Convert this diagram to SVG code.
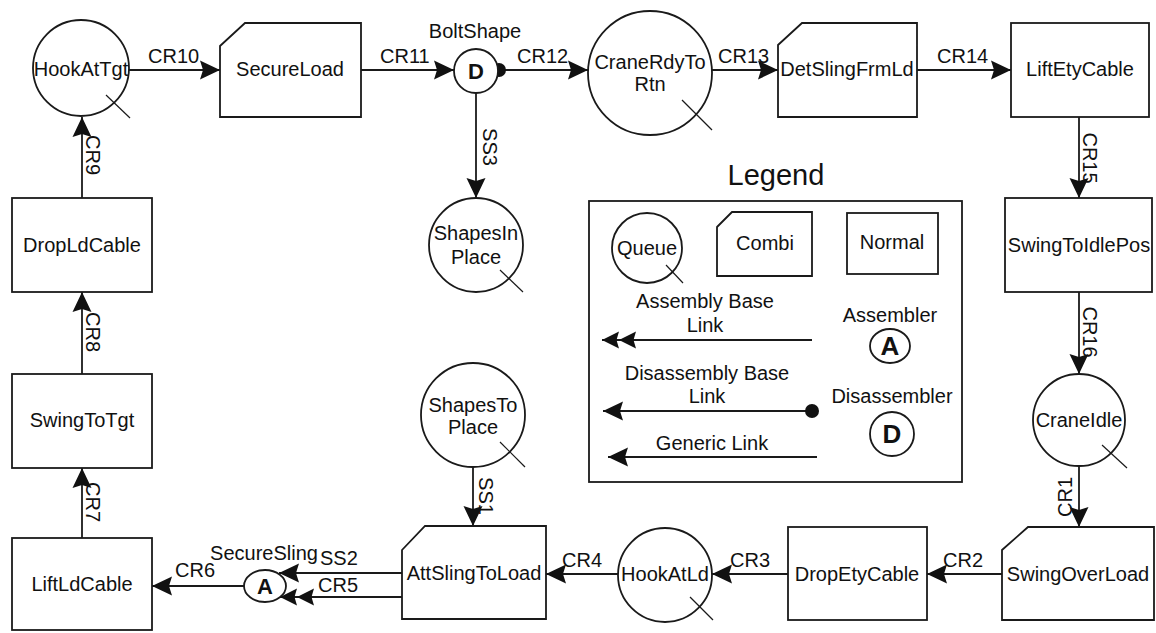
<svg xmlns="http://www.w3.org/2000/svg" width="1156" height="633" viewBox="0 0 1156 633">
<style>
  .bg{fill:#ffffff}
  .shape{fill:#ffffff;stroke:#1a1a1a;stroke-width:1.8}
  .tick{fill:none;stroke:#1a1a1a;stroke-width:1.2}
  .link{fill:none;stroke:#1a1a1a;stroke-width:1.8}
  text{font-family:"Liberation Sans",Arial,Helvetica,sans-serif;fill:#111111}
  .t{font-size:20px;text-anchor:middle}
  .lbl{font-size:20px}
  .vl{font-size:20px;text-anchor:middle}
  .big{font-size:22px;font-weight:bold;text-anchor:middle}
  .sym{font-size:26px;font-weight:bold;text-anchor:middle}
  .title{font-size:29px;text-anchor:middle}
</style>
<defs>
  <marker id="arr" markerUnits="userSpaceOnUse" markerWidth="20" markerHeight="20" viewBox="0 0 20 20" refX="20" refY="10" orient="auto">
    <path d="M0,0.5 L20,10 L0,19.5 L3,10 Z" fill="#111111"/>
  </marker>
  <marker id="arr2" markerUnits="userSpaceOnUse" markerWidth="36" markerHeight="18" viewBox="0 0 36 18" refX="36" refY="9" orient="auto">
    <path d="M2,0.5 L19,9 L2,17.5 L4.5,9 Z M19,0.5 L36,9 L19,17.5 L21.5,9 Z" fill="#111111"/>
  </marker>
  <marker id="dot" markerUnits="userSpaceOnUse" markerWidth="16" markerHeight="16" viewBox="0 0 16 16" refX="8" refY="8" orient="auto">
    <circle cx="8" cy="8" r="7" fill="#111111"/>
  </marker>
</defs>
<rect class="bg" x="0" y="0" width="1156" height="633"/>

<g id="connectors">
  <line class="link" x1="129" y1="70" x2="220" y2="70" marker-end="url(#arr)"/>
  <text class="lbl" x="148" y="63">CR10</text>
  <line class="link" x1="361" y1="70" x2="454" y2="70" marker-end="url(#arr)"/>
  <text class="lbl" x="380" y="63">CR11</text>
  <line class="link" x1="499" y1="70" x2="588" y2="70" marker-start="url(#dot)" marker-end="url(#arr)"/>
  <text class="lbl" x="517" y="63">CR12</text>
  <line class="link" x1="712" y1="70" x2="778" y2="70" marker-end="url(#arr)"/>
  <text class="lbl" x="718" y="63">CR13</text>
  <line class="link" x1="917" y1="70" x2="1011" y2="70" marker-end="url(#arr)"/>
  <text class="lbl" x="937" y="63">CR14</text>

  <line class="link" x1="1079" y1="117" x2="1079" y2="198" marker-end="url(#arr)"/>
  <text class="vl" transform="translate(1083,158) rotate(90)">CR15</text>
  <line class="link" x1="1079" y1="292" x2="1079" y2="374" marker-end="url(#arr)"/>
  <text class="vl" transform="translate(1083,332) rotate(90)">CR16</text>
  <line class="link" x1="1079" y1="466" x2="1079" y2="527" marker-end="url(#arr)"/>
  <text class="vl" transform="translate(1072,497) rotate(-90)">CR1</text>

  <line class="link" x1="1002" y1="574" x2="927" y2="574" marker-end="url(#arr)"/>
  <text class="lbl" x="943" y="567">CR2</text>
  <line class="link" x1="788" y1="574" x2="712" y2="574" marker-end="url(#arr)"/>
  <text class="lbl" x="730" y="567">CR3</text>
  <line class="link" x1="618" y1="574" x2="546" y2="574" marker-end="url(#arr)"/>
  <text class="lbl" x="562" y="567">CR4</text>

  <line class="link" x1="473" y1="467" x2="473" y2="526" marker-end="url(#arr)"/>
  <text class="vl" transform="translate(479,496) rotate(90)">SS1</text>
  <line class="link" x1="476" y1="93" x2="476" y2="198" marker-end="url(#arr)"/>
  <text class="vl" transform="translate(483,147) rotate(90)">SS3</text>

  <line class="link" x1="402" y1="573" x2="279" y2="573" marker-end="url(#arr)"/>
  <text class="lbl" x="320" y="565">SS2</text>
  <line class="link" x1="402" y1="597" x2="280" y2="597" marker-end="url(#arr2)"/>
  <text class="lbl" x="318" y="592">CR5</text>
  <line class="link" x1="244" y1="586" x2="152" y2="586" marker-end="url(#arr)"/>
  <text class="lbl" x="175" y="577">CR6</text>

  <line class="link" x1="82" y1="538" x2="82" y2="468" marker-end="url(#arr)"/>
  <text class="vl" transform="translate(86,502) rotate(90)">CR7</text>
  <line class="link" x1="82" y1="374" x2="82" y2="292" marker-end="url(#arr)"/>
  <text class="vl" transform="translate(86,332) rotate(90)">CR8</text>
  <line class="link" x1="82" y1="198" x2="82" y2="117" marker-end="url(#arr)"/>
  <text class="vl" transform="translate(86,155) rotate(90)">CR9</text>
</g>

<g id="HookAtTgt">
  <circle class="shape" cx="81" cy="68" r="48"/>
  <line class="tick" x1="106" y1="95" x2="130" y2="118"/>
  <text class="t" x="81" y="76">HookAtTgt</text>
</g>
<g id="SecureLoad">
  <path class="shape" d="M220,46 L245,23 L361,23 L361,117 L220,117 Z"/>
  <text class="t" x="290" y="76">SecureLoad</text>
</g>
<g id="BoltShape">
  <circle class="shape" cx="476" cy="71" r="22"/>
  <text class="big" x="476" y="79">D</text>
  <text class="t" x="475" y="38">BoltShape</text>
</g>
<g id="CraneRdyToRtn">
  <circle class="shape" cx="650" cy="73" r="62"/>
  <line class="tick" x1="682" y1="100" x2="712" y2="130"/>
  <text class="t" x="650" y="69">CraneRdyTo</text>
  <text class="t" x="650" y="91">Rtn</text>
</g>
<g id="DetSlingFrmLd">
  <path class="shape" d="M778,45 L802,23 L917,23 L917,117 L778,117 Z"/>
  <text class="t" x="847" y="76">DetSlingFrmLd</text>
</g>
<g id="LiftEtyCable">
  <rect class="shape" x="1011" y="23" width="138" height="94"/>
  <text class="t" x="1080" y="76">LiftEtyCable</text>
</g>
<g id="ShapesInPlace">
  <circle class="shape" cx="476" cy="245" r="47"/>
  <line class="tick" x1="500" y1="270" x2="523" y2="292"/>
  <text class="t" x="476" y="240">ShapesIn</text>
  <text class="t" x="476" y="264">Place</text>
</g>
<g id="SwingToIdlePos">
  <rect class="shape" x="1005" y="198" width="147" height="94"/>
  <text class="t" x="1079" y="252">SwingToIdlePos</text>
</g>
<g id="CraneIdle">
  <circle class="shape" cx="1079" cy="420" r="46"/>
  <line class="tick" x1="1102" y1="445" x2="1127" y2="468"/>
  <text class="t" x="1079" y="427">CraneIdle</text>
</g>
<g id="SwingOverLoad">
  <path class="shape" d="M1002,550 L1028,527 L1154,527 L1154,620 L1002,620 Z"/>
  <text class="t" x="1078" y="581">SwingOverLoad</text>
</g>
<g id="DropEtyCable">
  <rect class="shape" x="788" y="527" width="139" height="93"/>
  <text class="t" x="857" y="581">DropEtyCable</text>
</g>
<g id="HookAtLd">
  <circle class="shape" cx="665" cy="575" r="47"/>
  <line class="tick" x1="690" y1="597" x2="713" y2="620"/>
  <text class="t" x="665" y="581">HookAtLd</text>
</g>
<g id="AttSlingToLoad">
  <path class="shape" d="M402,550 L425,526 L546,526 L546,619 L402,619 Z"/>
  <text class="t" x="474" y="580">AttSlingToLoad</text>
</g>
<g id="ShapesToPlace">
  <circle class="shape" cx="473" cy="415" r="52"/>
  <line class="tick" x1="500" y1="442" x2="525" y2="467"/>
  <text class="t" x="473" y="412">ShapesTo</text>
  <text class="t" x="473" y="434">Place</text>
</g>
<g id="SecureSling">
  <ellipse class="shape" cx="265" cy="586" rx="21" ry="16"/>
  <text class="big" x="265" y="594">A</text>
  <text class="t" x="264" y="560">SecureSling</text>
</g>
<g id="LiftLdCable">
  <rect class="shape" x="12" y="538" width="140" height="92"/>
  <text class="t" x="82" y="591">LiftLdCable</text>
</g>
<g id="SwingToTgt">
  <rect class="shape" x="12" y="374" width="140" height="94"/>
  <text class="t" x="82" y="427">SwingToTgt</text>
</g>
<g id="DropLdCable">
  <rect class="shape" x="12" y="198" width="140" height="94"/>
  <text class="t" x="82" y="252">DropLdCable</text>
</g>

<g id="legend">
  <text class="title" x="776" y="185">Legend</text>
  <rect class="shape" x="589" y="201" width="373" height="281"/>
  <circle class="shape" cx="647" cy="248" r="35"/>
  <line class="tick" x1="666" y1="265" x2="683" y2="283"/>
  <text class="t" x="647" y="255">Queue</text>
  <path class="shape" d="M717,227 L732,212 L812,212 L812,276 L717,276 Z"/>
  <text class="t" x="765" y="250">Combi</text>
  <rect class="shape" x="847" y="213" width="91" height="61"/>
  <text class="t" x="892" y="249">Normal</text>
  <text class="t" x="705" y="308">Assembly Base</text>
  <text class="t" x="705" y="332">Link</text>
  <line class="link" x1="812" y1="340" x2="602" y2="340" marker-end="url(#arr2)"/>
  <text class="t" x="890" y="322">Assembler</text>
  <ellipse class="shape" cx="890" cy="346" rx="20" ry="17"/>
  <text class="sym" x="890" y="355">A</text>
  <text class="t" x="707" y="380">Disassembly Base</text>
  <text class="t" x="707" y="403">Link</text>
  <line class="link" x1="812" y1="411" x2="603" y2="411" marker-start="url(#dot)" marker-end="url(#arr)"/>
  <text class="t" x="892" y="403">Disassembler</text>
  <circle class="shape" cx="892" cy="434" r="22"/>
  <text class="sym" x="892" y="443">D</text>
  <text class="t" x="712" y="450">Generic Link</text>
  <line class="link" x1="817" y1="457" x2="608" y2="457" marker-end="url(#arr)"/>
</g>
</svg>
